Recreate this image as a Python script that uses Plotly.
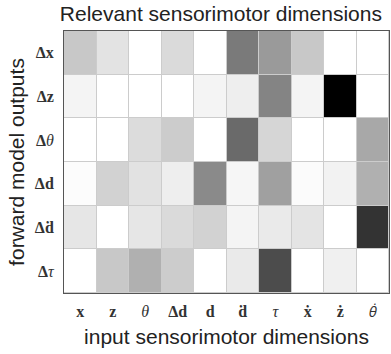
import plotly.graph_objects as go

inputs = ["<b>x</b>", "<b>z</b>", "<i>θ</i>", "<b>Δd</b>", "<b>d</b>", "<b>d\u0307</b>",
          "<i>τ</i>", "<b>ẋ</b>", "<b>ż</b>",
          "<span style='font-family:Open Sans;font-size:15px'><i>θ\u0307</i></span>"]
outputs = ["<b>Δx</b>", "<b>Δz</b>", "<b>Δ</b><i>θ</i>", "<b>Δd</b>", "<b>Δd\u0307</b>", "<b>Δ</b><i>τ</i>"]

# gray levels (255 = white, 0 = black)
gray_dx = [200, 227, 255, 218, 255, 122, 154, 200, 255, 255]
gray_dz = [244, 255, 255, 255, 244, 238, 132, 244, 0, 255]
gray_dtheta = [255, 255, 220, 204, 255, 106, 214, 255, 255, 168]
gray_dd = [252, 210, 226, 238, 138, 246, 160, 251, 242, 176]
gray_dddot = [230, 255, 230, 218, 210, 244, 234, 228, 255, 51]
gray_dtau = [255, 200, 176, 204, 255, 234, 76, 255, 240, 255]

rows = [gray_dx, gray_dz, gray_dtheta, gray_dd, gray_dddot, gray_dtau]
z = [[1 - g / 255 for g in r] for r in rows]

fig = go.Figure(go.Heatmap(
    z=z, x=inputs, y=outputs,
    colorscale=[[0, "#ffffff"], [1, "#000000"]],
    zmin=0, zmax=1, showscale=False, xgap=1, ygap=1,
))

axis_font = dict(family="Liberation Serif", size=16, color="#333")
title_font = dict(family="Liberation Sans", size=21, color="#222")
fig.update_layout(
    width=391, height=354,
    margin=dict(l=64, r=2, t=31, b=61),
    paper_bgcolor="white", plot_bgcolor="#cccccc",
    title=dict(text="Relevant sensorimotor dimensions", x=0.565, xanchor="center",
               y=0.962, yanchor="middle", font=title_font),
    xaxis=dict(title=dict(text="input sensorimotor dimensions", standoff=9, font=title_font),
               tickfont=axis_font, ticks="outside", ticklen=4, tickcolor="rgba(0,0,0,0)",
               showline=True, linecolor="#555", linewidth=1, mirror=True,
               showgrid=False, zeroline=False, automargin=False),
    yaxis=dict(title=dict(text="forward model outputs", standoff=4, font=title_font),
               tickfont=axis_font, ticks="outside", ticklen=6, tickcolor="rgba(0,0,0,0)",
               autorange="reversed",
               showline=True, linecolor="#555", linewidth=1, mirror=True,
               showgrid=False, zeroline=False, automargin=False),
)

fig.write_html("out.html")
